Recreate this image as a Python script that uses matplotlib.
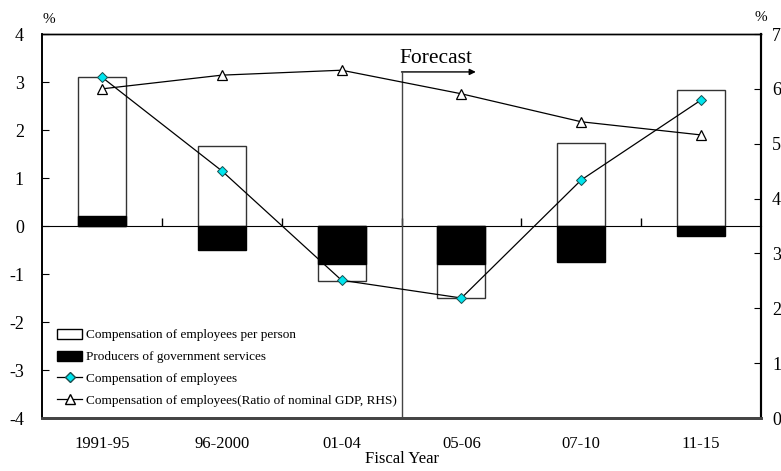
import matplotlib.pyplot as plt
import numpy as np
from matplotlib.patches import Patch
from matplotlib.lines import Line2D

plt.rcParams["font.family"] = ["Liberation Serif", "DejaVu Serif"]
plt.rcParams["axes.unicode_minus"] = False

# Data (annual average growth rates, %)
periods = ["1991-95", "96-2000", "01-04", "05-06", "07-10", "11-15"]
comp_per_person = [3.11, 1.66, -1.14, -1.50, 1.72, 2.83]
gov_producers = [0.21, -0.49, -0.80, -0.80, -0.74, -0.20]
comp_employees = [3.10, 1.15, -1.13, -1.50, 0.96, 2.625]
comp_gdp_ratio = [6.00, 6.25, 6.34, 5.91, 5.40, 5.16]

x = np.arange(len(periods))

fig = plt.figure(figsize=(7.81, 4.71), dpi=100)
ax = fig.add_axes([0.0538, 0.1125, 0.9206, 0.8153])
ax2 = ax.twinx()

bw = 0.4
ax.bar(x, comp_per_person, width=bw, color="white", edgecolor="#333333",
       linewidth=1, zorder=2)
ax.bar(x, gov_producers, width=bw, color="black", edgecolor="black",
       linewidth=1, zorder=3)
ax.plot(x, comp_employees, color="black", linewidth=0.9, marker="D",
        markersize=5.5, markerfacecolor="#00e5ee", markeredgecolor="#1a4d4d",
        markeredgewidth=0.7, zorder=5)
ax2.plot(x, comp_gdp_ratio, color="black", linewidth=0.9, marker="^",
         markersize=6.5, markerfacecolor="white", markeredgecolor="black",
         markeredgewidth=0.9, zorder=5)

ax.set_xlim(-0.5, len(periods) - 0.5)
ax.set_ylim(-4, 4)
ax.set_yticks(range(-4, 5))
ax2.set_ylim(0, 7)
ax2.set_yticks(range(0, 8))

ax.set_xticks(x)
ax.set_xticklabels(periods)
ax.tick_params(axis="x", length=0, pad=13, labelsize=12)
ax.tick_params(axis="y", direction="in", length=5, labelsize=13, pad=13)
ax2.tick_params(axis="y", direction="in", length=5, labelsize=13, pad=8)
ax.set_xlabel("Fiscal Year", fontsize=12, labelpad=-1)

# category axis crossing at zero
zero_axis = ax.secondary_xaxis(0.5)
zero_axis.set_xticks(x[:-1] + 0.5)
zero_axis.set_xticklabels([])
zero_axis.tick_params(direction="out", length=6, width=1)
zero_axis.spines["bottom"].set_linewidth(1)

for a in (ax, ax2):
    a.spines["top"].set_linewidth(1)
    a.spines["left"].set_linewidth(1.2)
    a.spines["right"].set_linewidth(1.5)
    a.spines["bottom"].set_linewidth(2)
    a.spines["bottom"].set_color("#444444")

ax.text(-0.44, 1.02, "%", transform=ax.get_xaxis_transform(), ha="center",
        va="bottom", fontsize=11)
ax.text(5.5, 1.025, "%", transform=ax.get_xaxis_transform(), ha="center",
        va="bottom", fontsize=11)

# forecast marker
ax.plot([2.5, 2.5], [-4, 3.21], color="#444444", linewidth=1, zorder=4)
ax.annotate("", xy=(3.12, 3.21), xytext=(2.5, 3.21),
            arrowprops=dict(arrowstyle="-|>", color="black", lw=1,
                            mutation_scale=9, shrinkA=0, shrinkB=0))
ax.text(2.48, 3.5, "Forecast", fontsize=15.5, ha="left", va="center")

handles = [
    Patch(facecolor="white", edgecolor="black",
          label="Compensation of employees per person"),
    Patch(facecolor="black", edgecolor="black",
          label="Producers of government services"),
    Line2D([], [], color="black", linewidth=0.9, marker="D", markersize=5.5,
           markerfacecolor="#00e5ee", markeredgecolor="#1a4d4d",
           label="Compensation of employees"),
    Line2D([], [], color="black", linewidth=0.9, marker="^", markersize=6.5,
           markerfacecolor="white", markeredgecolor="black",
           label="Compensation of employees(Ratio of nominal GDP, RHS)"),
]
ax2.legend(handles=handles, loc="lower left", bbox_to_anchor=(0.014, 0.015),
           frameon=False, fontsize=9.5, handlelength=1.9, handleheight=0.8,
           handletextpad=0.25, labelspacing=0.7, borderaxespad=0)

fig.savefig("out.png", dpi=100)
